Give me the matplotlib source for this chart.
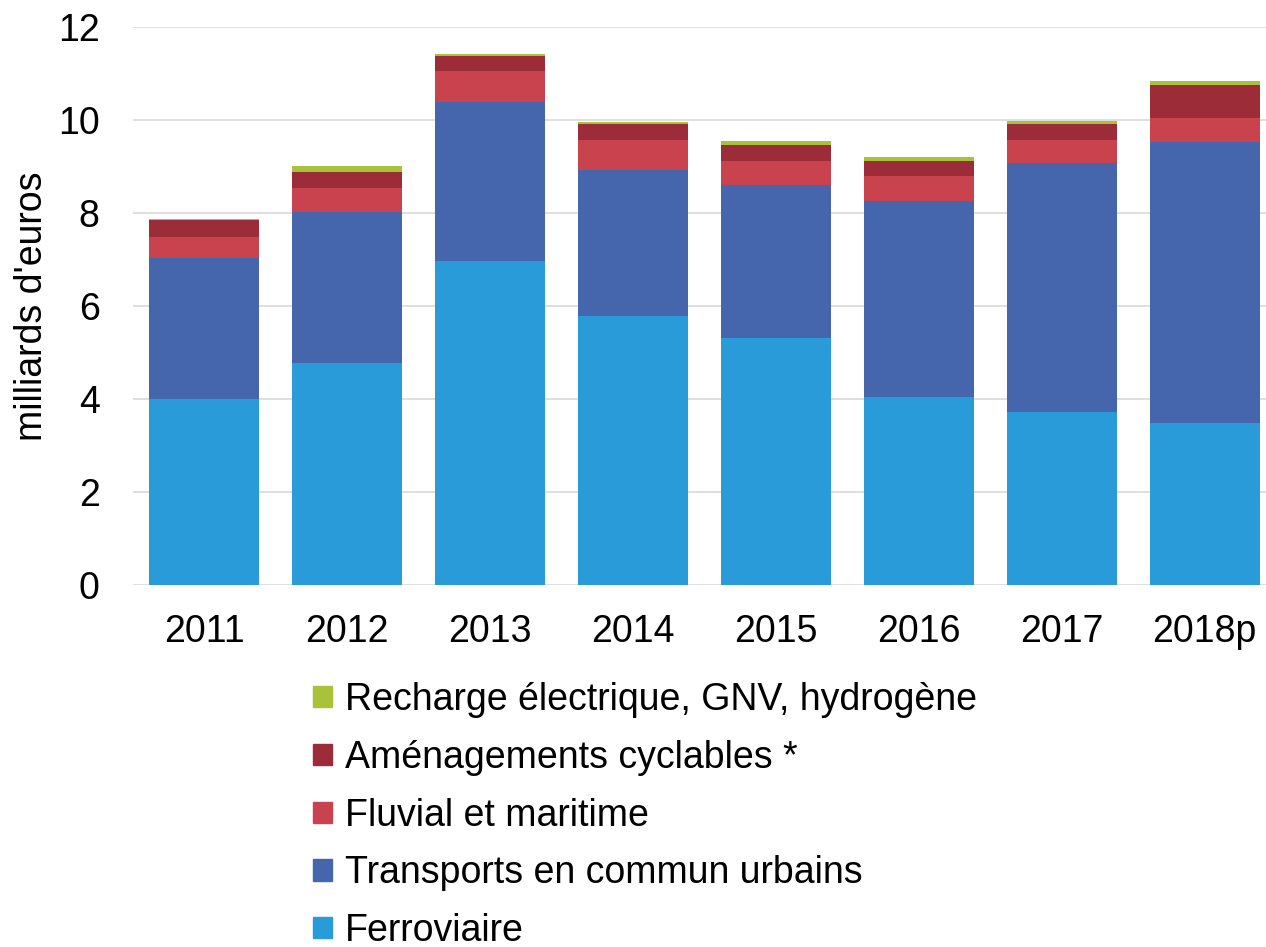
import matplotlib
matplotlib.use("Agg")
import matplotlib.pyplot as plt
from matplotlib.patches import Patch

plt.rcParams['font.family'] = ['Liberation Sans', 'DejaVu Sans']

years = ["2011", "2012", "2013", "2014", "2015", "2016", "2017", "2018p"]
ferroviaire = [4.00, 4.78, 6.97, 5.78, 5.31, 4.04, 3.72, 3.48]
transports_commun = [3.03, 3.24, 3.41, 3.14, 3.29, 4.22, 5.36, 6.05]
fluvial = [0.46, 0.51, 0.67, 0.65, 0.52, 0.54, 0.49, 0.51]
cyclables = [0.35, 0.35, 0.33, 0.34, 0.34, 0.32, 0.35, 0.72]
recharge = [0.03, 0.14, 0.05, 0.05, 0.08, 0.08, 0.05, 0.07]

series = [
    ("Ferroviaire", ferroviaire, "#2A9BD9"),
    ("Transports en commun urbains", transports_commun, "#4565AD"),
    ("Fluvial et maritime", fluvial, "#C9434F"),
    ("Aménagements cyclables *", cyclables, "#9B2C38"),
    ("Recharge électrique, GNV, hydrogène", recharge, "#A9C23A"),
]

W, H = 1266, 947
FS = 27
fig = plt.figure(figsize=(W / 100, H / 100), dpi=100)
ax = fig.add_axes([133 / W, 1 - 585 / H, (1266 - 133) / W, (585 - 27) / H])

x = list(range(len(years)))
bottom = [0.0] * len(years)
for name, vals, col in series:
    ax.bar(x, vals, bottom=bottom, width=0.77, color=col, label=name, zorder=2)
    bottom = [b + v for b, v in zip(bottom, vals)]

ax.set_ylim(0, 12)
ax.set_yticks([0, 2, 4, 6, 8, 10, 12])
ax.set_xlim(-0.5, 7.43)
ax.set_xticks(x)
ax.set_xticklabels(years)
ax.tick_params(axis='both', length=0, labelsize=FS)
ax.tick_params(axis='y', pad=24)
ax.tick_params(axis='x', pad=21)
ax.grid(axis='y', color='#D9D9D9', linewidth=1.2, zorder=0)
for s in ax.spines.values():
    s.set_visible(False)
ax.set_ylabel("milliards d'euros", fontsize=FS, labelpad=6)

handles = [Patch(color=col, label=name) for name, vals, col in reversed(series)]
fig.legend(handles=handles, loc='upper left', bbox_to_anchor=(313 / W, 1 - 682 / H),
           frameon=False, fontsize=FS, handlelength=0.5, handleheight=0.5,
           handletextpad=0.35, labelspacing=0.58, borderaxespad=0, borderpad=0)

fig.savefig("out.png", dpi=100)
